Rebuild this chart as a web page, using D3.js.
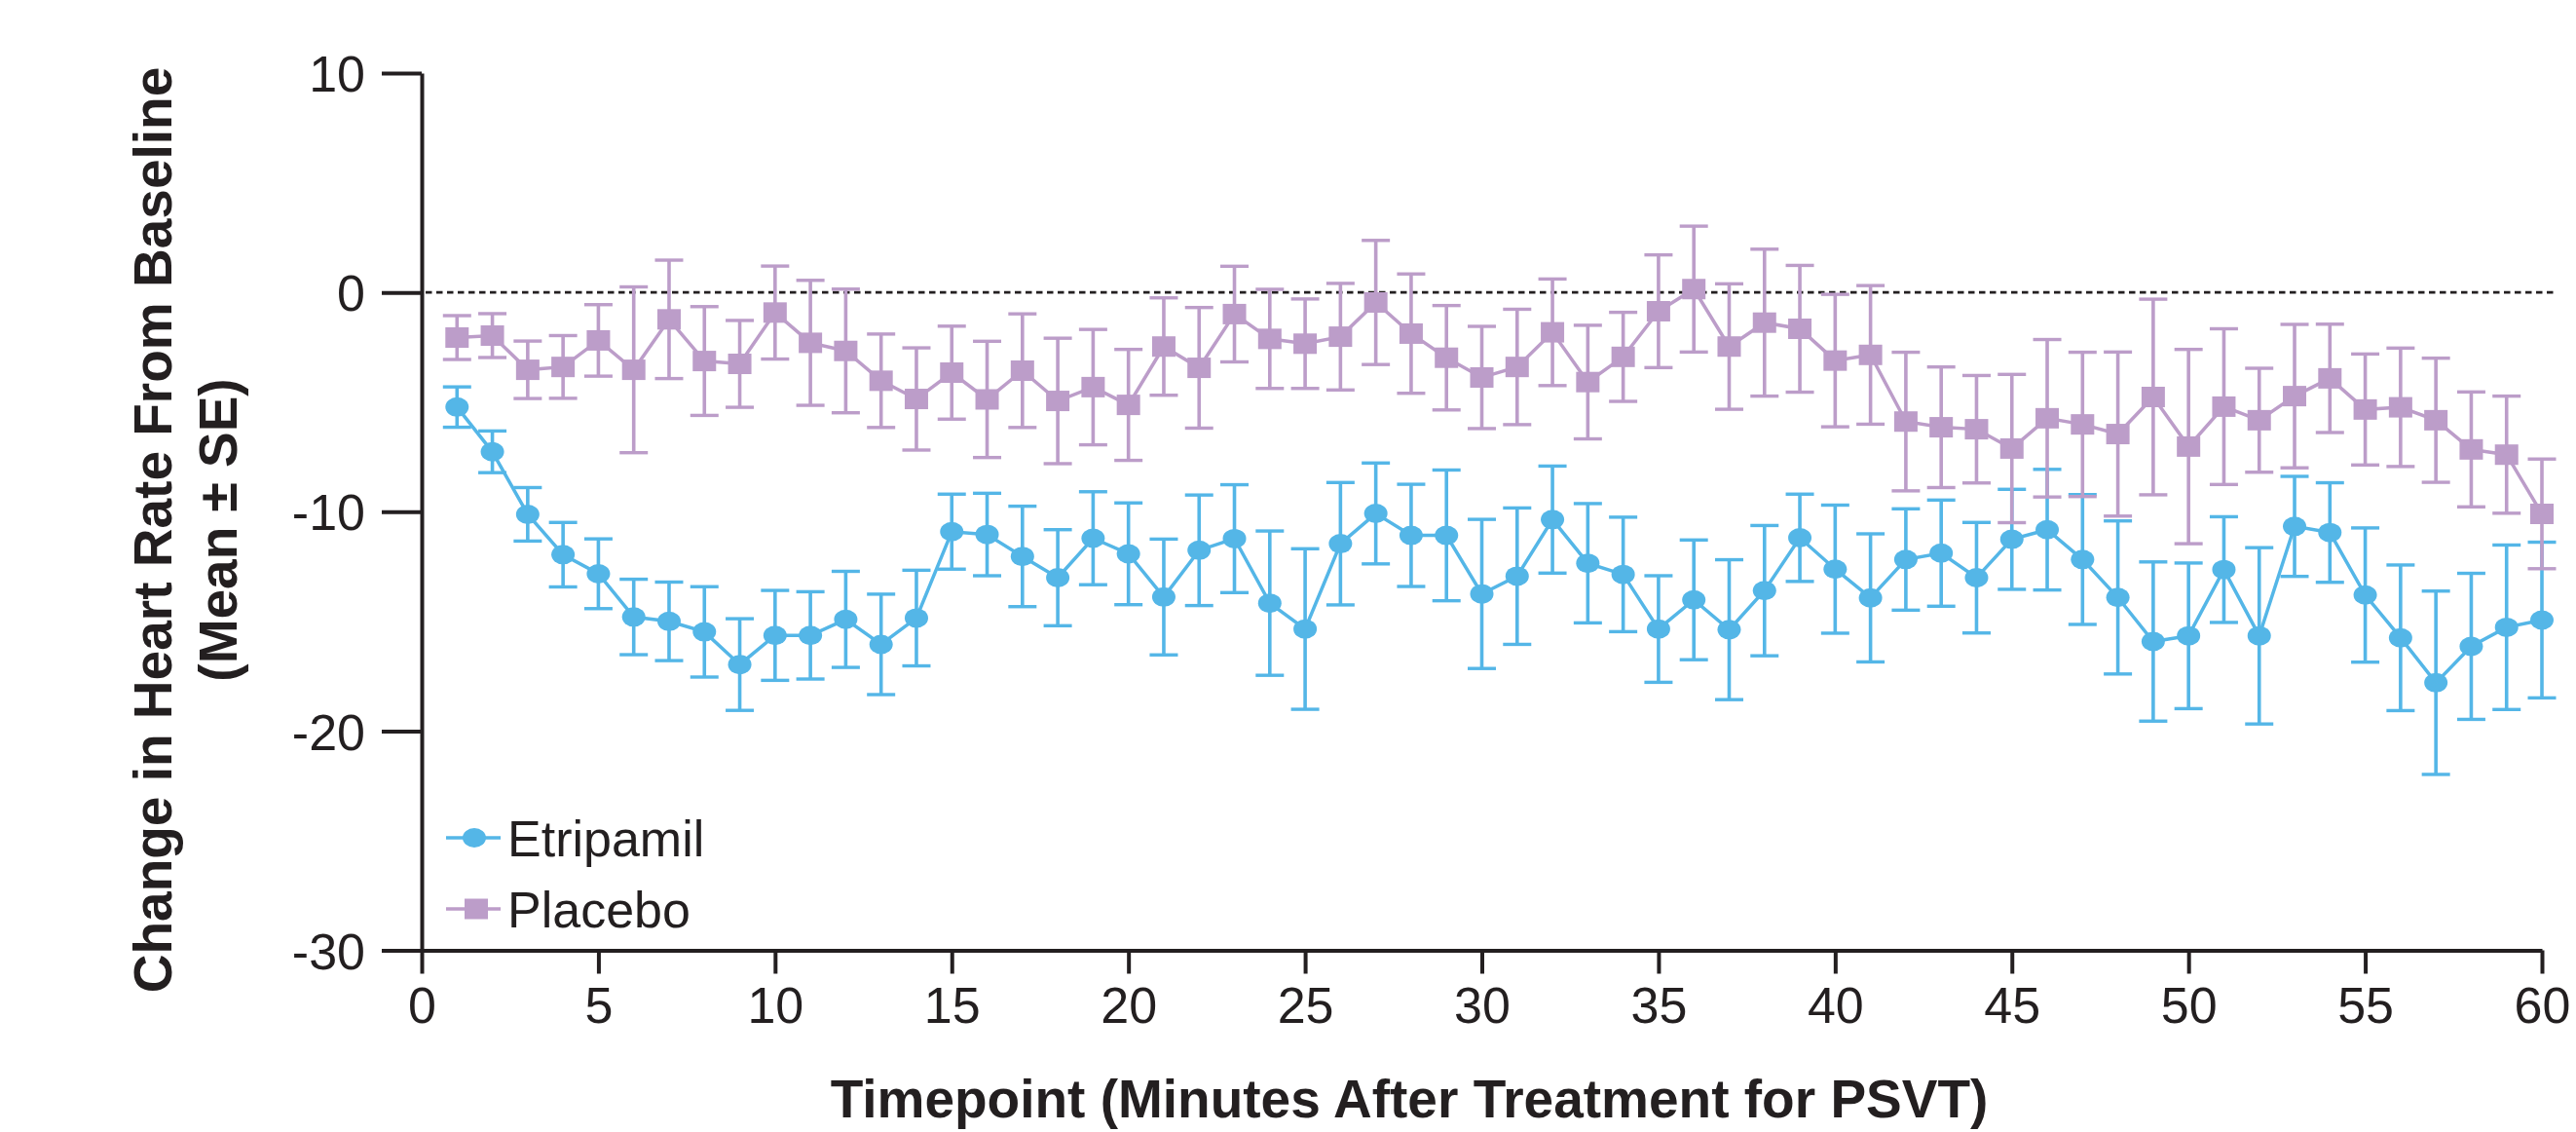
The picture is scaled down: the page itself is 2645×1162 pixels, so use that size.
<!DOCTYPE html>
<html>
<head>
<meta charset="utf-8">
<script src="https://cdn.jsdelivr.net/npm/d3@7"></script>
<style>
html,body{margin:0;padding:0;background:#fff;}
svg{display:block;}
text{font-family:"Liberation Sans", Arial, Helvetica, sans-serif;fill:#231F20;}
</style>
</head>
<body>
<svg id="chart" width="2645" height="1162"></svg>
<script>
// ---- data ----
const minutes = [1,2,3,4,5,6,7,8,9,10,11,12,13,14,15,16,17,18,19,20,21,22,23,24,25,26,27,28,29,30,
                 31,32,33,34,35,36,37,38,39,40,41,42,43,44,45,46,47,48,49,50,51,52,53,54,55,56,57,58,59,60];

const etripamilMean = [-5.23,-7.27,-10.12,-11.96,-12.83,-14.80,-15.00,-15.48,-16.97,-15.64,
  -15.64,-14.91,-16.05,-14.85,-10.91,-11.04,-12.04,-13.01,-11.21,-11.92,
  -13.89,-11.76,-11.23,-14.17,-15.35,-11.46,-10.08,-11.08,-11.08,-13.75,
  -12.94,-10.36,-12.35,-12.86,-15.35,-14.02,-15.38,-13.60,-11.19,-12.62,
  -13.93,-12.18,-11.89,-13.01,-11.26,-10.82,-12.18,-13.91,-15.92,-15.66,
  -12.64,-15.66,-10.67,-10.95,-13.80,-15.75,-17.80,-16.14,-15.27,-14.94];
const etripamilSE = [0.92,0.95,1.22,1.47,1.59,1.72,1.79,2.06,2.09,2.05,
  1.99,2.19,2.29,2.18,1.71,1.88,2.29,2.19,2.12,2.32,
  2.64,2.52,2.46,3.29,3.66,2.79,2.30,2.33,2.98,3.40,
  3.11,2.44,2.72,2.61,2.43,2.73,3.19,2.97,1.99,2.92,
  2.92,2.31,2.42,2.52,2.28,2.75,2.96,3.49,3.63,3.32,
  2.41,4.02,2.28,2.27,3.06,3.32,4.18,3.33,3.75,3.55];

const placeboMean = [-2.06,-1.97,-3.53,-3.40,-2.19,-3.53,-1.23,-3.13,-3.26,-0.92,
  -2.30,-2.67,-4.03,-4.86,-3.66,-4.88,-3.57,-4.95,-4.32,-5.13,
  -2.47,-3.44,-0.99,-2.12,-2.34,-2.02,-0.46,-1.88,-2.98,-3.88,
  -3.40,-1.82,-4.09,-2.94,-0.86,0.15,-2.47,-1.38,-1.66,-3.11,
  -2.85,-5.89,-6.15,-6.24,-7.12,-5.74,-6.02,-6.46,-4.77,-7.03,
  -5.21,-5.83,-4.73,-3.92,-5.34,-5.24,-5.83,-7.16,-7.40,-10.10];
const placeboSE = [1.00,1.00,1.31,1.43,1.63,3.78,2.70,2.48,1.98,2.12,
  2.85,2.82,2.13,2.33,2.12,2.65,2.59,2.86,2.63,2.53,
  2.22,2.75,2.18,2.26,2.04,2.43,2.83,2.72,2.38,2.33,
  2.63,2.43,2.59,2.03,2.57,2.87,2.86,3.35,2.89,3.02,
  3.16,3.16,2.75,2.45,3.38,3.59,3.29,3.74,4.46,4.43,
  3.55,2.37,3.27,2.47,2.53,2.70,2.83,2.62,2.67,2.50];

const xTicks = [0,5,10,15,20,25,30,35,40,45,50,55,60];
const yTicks = [10,0,-10,-20,-30];
const seriesNames = ["Etripamil","Placebo"];
const seriesColors = ["#54B6E7","#BC9DC9"];
const xTitle = "Timepoint (Minutes After Treatment for PSVT)";
const yTitleLines = ["Change in Heart Rate From Baseline","(Mean ± SE)"];

// ---- layout ----
const svg = d3.select("#chart");
const axisColor = "#231F20";
const x = d3.scaleLinear().domain([0,60]).range([433,2610]);
const y = d3.scaleLinear().domain([-30,10]).range([975.5,75]);
const fmt = d => String(d); // plain hyphen-minus like the reference

// zero reference line
svg.append("line")
  .attr("x1", x(0)+4).attr("x2", x(60)+14)
  .attr("y1", y(0)).attr("y2", y(0))
  .attr("stroke", axisColor).attr("stroke-width", 2.7)
  .attr("stroke-dasharray", "6.5,4.5");

// axes
const yAxis = svg.append("g").attr("transform", `translate(${x(0)},0)`)
  .call(d3.axisLeft(y).tickValues(yTicks).tickSize(41).tickSizeOuter(0).tickPadding(17).tickFormat(fmt));
const xAxis = svg.append("g").attr("transform", `translate(0,${y(-30)})`)
  .call(d3.axisBottom(x).tickValues(xTicks).tickSize(24).tickSizeOuter(0).tickPadding(14).tickFormat(fmt));
[yAxis, xAxis].forEach(g => {
  g.selectAll("path.domain").attr("stroke", axisColor).attr("stroke-width", 4);
  g.selectAll(".tick line").attr("stroke", axisColor).attr("stroke-width", 4);
  g.selectAll(".tick text").attr("fill", axisColor)
    .style("font-family", '"Liberation Sans", Arial, sans-serif').style("font-size", "52px");
});
yAxis.selectAll(".tick text").attr("dy", "0.36em");
xAxis.selectAll(".tick text").attr("dy", "0.71em");

// axis titles
svg.append("text")
  .attr("x", 1447).attr("y", 1147)
  .attr("text-anchor", "middle")
  .style("font-size", "55px").style("font-weight", "bold")
  .text(xTitle);

const yt = svg.append("g").attr("transform", "translate(0,544) rotate(-90)");
yTitleLines.forEach((t, i) => {
  yt.append("text")
    .attr("x", 0).attr("y", i === 0 ? 176 : 243)
    .attr("text-anchor", "middle")
    .style("font-size", "55px").style("font-weight", "bold")
    .text(t);
});

// series
const series = [
  {name: seriesNames[0], color: seriesColors[0], mean: etripamilMean, se: etripamilSE, shape: "circle"},
  {name: seriesNames[1], color: seriesColors[1], mean: placeboMean, se: placeboSE, shape: "square"}
];

const capHalf = 14.5;
series.forEach(s => {
  const pts = minutes.map((m, i) => ({m, v: s.mean[i], se: s.se[i]}));
  const g = svg.append("g");
  g.append("path")
    .datum(pts)
    .attr("fill", "none")
    .attr("stroke", s.color).attr("stroke-width", 3.5)
    .attr("d", d3.line().x(d => x(d.m)).y(d => y(d.v)));
  const eb = g.selectAll("g.eb").data(pts).join("g").attr("class", "eb");
  eb.append("line")
    .attr("x1", d => x(d.m)).attr("x2", d => x(d.m))
    .attr("y1", d => y(d.v + d.se)).attr("y2", d => y(d.v - d.se))
    .attr("stroke", s.color).attr("stroke-width", 3.6);
  eb.append("line")
    .attr("x1", d => x(d.m) - capHalf).attr("x2", d => x(d.m) + capHalf)
    .attr("y1", d => y(d.v + d.se)).attr("y2", d => y(d.v + d.se))
    .attr("stroke", s.color).attr("stroke-width", 3.4);
  eb.append("line")
    .attr("x1", d => x(d.m) - capHalf).attr("x2", d => x(d.m) + capHalf)
    .attr("y1", d => y(d.v - d.se)).attr("y2", d => y(d.v - d.se))
    .attr("stroke", s.color).attr("stroke-width", 3.4);
  if (s.shape === "circle") {
    g.selectAll("ellipse.mk").data(pts).join("ellipse").attr("class", "mk")
      .attr("cx", d => x(d.m)).attr("cy", d => y(d.v))
      .attr("rx", 12).attr("ry", 10).attr("fill", s.color);
  } else {
    g.selectAll("rect.mk").data(pts).join("rect").attr("class", "mk")
      .attr("x", d => x(d.m) - 12).attr("y", d => y(d.v) - 10.5)
      .attr("width", 24).attr("height", 21).attr("fill", s.color);
  }
});

// legend
const legendY = [860, 933];
series.forEach((s, i) => {
  const lg = svg.append("g").attr("transform", `translate(0,${legendY[i]})`);
  lg.append("line").attr("x1", 458).attr("x2", 514).attr("y1", 0).attr("y2", 0)
    .attr("stroke", s.color).attr("stroke-width", 3.5);
  if (s.shape === "circle") {
    lg.append("ellipse").attr("cx", 487).attr("cy", 0).attr("rx", 12).attr("ry", 10).attr("fill", s.color);
  } else {
    lg.append("rect").attr("x", 477).attr("y", -10.5).attr("width", 24).attr("height", 21).attr("fill", s.color);
  }
  lg.append("text").attr("x", 521).attr("y", 19)
    .style("font-size", "52px")
    .text(s.name);
});
</script>
</body>
</html>
